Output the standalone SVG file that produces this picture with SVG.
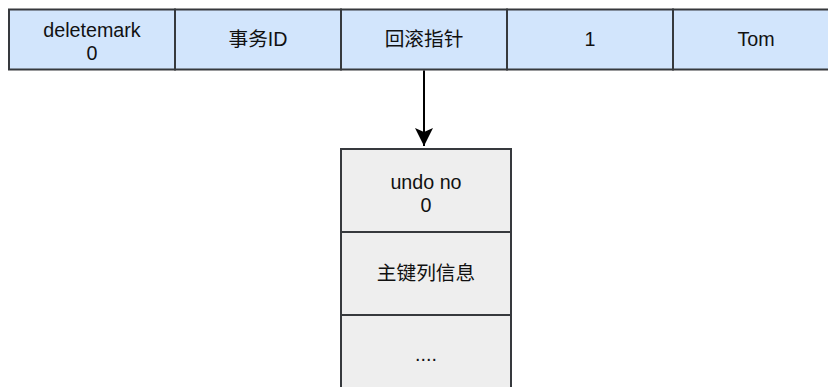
<svg xmlns="http://www.w3.org/2000/svg" width="828" height="387" viewBox="0 0 828 387">
  <style>
    .cell { fill: #d2e5fc; stroke: #36393d; stroke-width: 2; }
    .ucell { fill: #eeeeee; stroke: #36393d; stroke-width: 2; }
    .t { font-family: "Liberation Sans", Arial, "Noto Sans CJK SC", sans-serif; font-size: 19.7px; fill: #111111; text-anchor: middle; }
    .edge { stroke: #000000; stroke-width: 2; fill: none; }
  </style>
  <defs>
    <marker id="arrow" markerUnits="userSpaceOnUse" markerWidth="20" markerHeight="20" viewBox="0 0 20 20" refX="18" refY="10" orient="auto">
      <path d="M0,1 L18,10 L0,19 L4,10 Z" fill="#000000"/>
    </marker>
  </defs>
  <rect width="828" height="387" fill="#ffffff"/>
  <g id="row">
    <g id="cell-deletemark">
      <rect class="cell" x="9" y="9.5" width="166" height="60"/>
      <text class="t" x="92" y="37">deletemark</text>
      <text class="t" x="92" y="60">0</text>
    </g>
    <g id="cell-txid">
      <rect class="cell" x="175" y="9.5" width="166" height="60"/>
      <text class="t" x="258" y="46">事务ID</text>
    </g>
    <g id="cell-rollptr">
      <rect class="cell" x="341" y="9.5" width="166" height="60"/>
      <text class="t" x="424" y="46">回滚指针</text>
    </g>
    <g id="cell-1">
      <rect class="cell" x="507" y="9.5" width="166" height="60"/>
      <text class="t" x="590" y="46">1</text>
    </g>
    <g id="cell-tom">
      <rect class="cell" x="673" y="9.5" width="166" height="60"/>
      <text class="t" x="756" y="46">Tom</text>
    </g>
  </g>
  <g id="connectors">
    <line class="edge" x1="424" y1="70.5" x2="424" y2="146" marker-end="url(#arrow)"/>
  </g>
  <g id="undo-log">
    <g id="undo-no">
      <rect class="ucell" x="341" y="149" width="170" height="83"/>
      <text class="t" x="426" y="189">undo no</text>
      <text class="t" x="426" y="212">0</text>
    </g>
    <g id="pk-info">
      <rect class="ucell" x="341" y="232" width="170" height="83"/>
      <text class="t" x="426" y="280">主键列信息</text>
    </g>
    <g id="more">
      <rect class="ucell" x="341" y="315" width="170" height="83"/>
      <text class="t" x="426" y="361">....</text>
    </g>
  </g>
</svg>
